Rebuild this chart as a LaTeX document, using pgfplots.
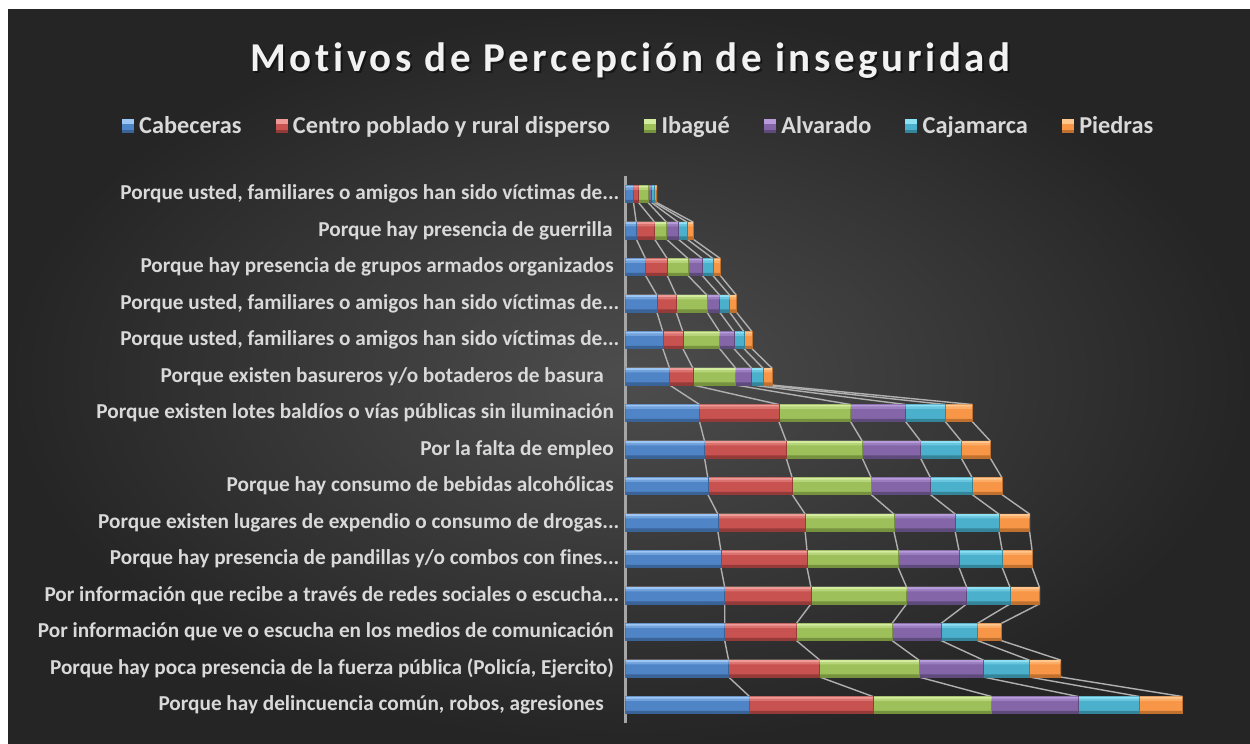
\documentclass[border=0pt]{standalone}
\usepackage{pgfplots}
\pgfplotsset{compat=1.18}
\usepackage{pgfplotstable}
\usepackage{fontspec}
\setmainfont[Ligatures=NoCommon]{Carlito}
\newfontfamily\titlefont[LetterSpace=8.8,Ligatures=NoCommon]{Carlito}
\newcommand{\tdots}{.\kern0pt.\kern0pt.}
\newcommand{\tsp}[1]{\rule{#1}{0pt}}

\definecolor{bgIn}{HTML}{4D4D4D}
\definecolor{bgOut}{HTML}{252525}
\definecolor{txt}{HTML}{D9D9D9}
\definecolor{lineG}{HTML}{B0B0B0}
\definecolor{axG}{HTML}{A6A6A6}
% base / light / dark
\definecolor{bB}{HTML}{4F84C6}\definecolor{bL}{HTML}{9CC6F5}\definecolor{bD}{HTML}{3A6398}
\definecolor{rB}{HTML}{C8524F}\definecolor{rL}{HTML}{F09A97}\definecolor{rD}{HTML}{943A38}
\definecolor{gB}{HTML}{9DC05A}\definecolor{gL}{HTML}{D4EC9E}\definecolor{gD}{HTML}{76923F}
\definecolor{pB}{HTML}{8466A8}\definecolor{pL}{HTML}{B89BDB}\definecolor{pD}{HTML}{5F4A7C}
\definecolor{cB}{HTML}{4BB0CC}\definecolor{cL}{HTML}{8EE1F4}\definecolor{cD}{HTML}{34849A}
\definecolor{oB}{HTML}{F79646}\definecolor{oL}{HTML}{FFC78E}\definecolor{oD}{HTML}{C07130}

% cumulative right ends of each series (px-like units), two rows per category (lower / upper bar edge)
\pgfplotstableread{
y c1 c2 c3 c4 c5 c6
-0.233 124 247.3 366 452.5 513.7 556.6
0.233 124 247.3 366 452.5 513.7 556.6
0.767 103.1 194.2 293.3 357.6 403.5 434.9
1.233 103.1 194.2 293.3 357.6 403.5 434.9
1.767 99.2 170.8 266.5 315.5 351.8 375.6
2.233 99.2 170.8 266.5 315.5 351.8 375.6
2.767 99.2 185.4 281 341.1 384.4 413.8
3.233 99.2 185.4 281 341.1 384.4 413.8
3.767 95.4 181.5 272.6 333.5 376.7 406.6
4.233 95.4 181.5 272.6 333.5 376.7 406.6
4.767 92.3 179.6 268.3 329.6 373.3 404
5.233 92.3 179.6 268.3 329.6 373.3 404
5.767 82.3 166.6 245.6 304.9 346.6 376.3
6.233 82.3 166.6 245.6 304.9 346.6 376.3
6.767 79 160.7 236.7 295 335.7 364.7
7.233 79 160.7 236.7 295 335.7 364.7
7.767 74 153.3 225 280 319.7 346.7
8.233 74 153.3 225 280 319.7 346.7
8.767 44 67.3 110 126 137.3 146.3
9.233 44 67.3 110 126 137.3 146.3
9.767 37.3 57.3 94 108.3 118.3 126.3
10.233 37.3 57.3 94 108.3 118.3 126.3
10.767 31.3 50.6 81.3 94 104 110.7
11.233 31.3 50.6 81.3 94 104 110.7
11.767 20 41.7 62.4 76.7 87.4 94.7
12.233 20 41.7 62.4 76.7 87.4 94.7
12.767 10.7 29 40.7 52.4 61.4 67.4
13.233 10.7 29 40.7 52.4 61.4 67.4
13.767 8 13 22.5 26 28.7 31
14.233 8 13 22.5 26 28.7 31
}\cumdata

\pgfplotsset{
  segbar/.style={xbar, bar width=0.466, bar shift=0pt, forget plot},
  seriesline/.style={draw=lineG, line width=1.4bp, mark=none, forget plot},
}
% draw one series: base bar, highlight bands, dark bottom band
\newcommand{\segment}[4]{% column, base, light, dark
  \addplot[segbar, fill=#2, draw=#4, line width=0.6bp] table[x=#1, y expr={round(\thisrow{y})}] {\cumdata};
  \addplot[xbar, bar width=0.12, bar shift=0pt, forget plot, fill=#3!45!#2, draw=none] table[x=#1, y expr={round(\thisrow{y})+0.17}] {\cumdata};
  \addplot[xbar, bar width=0.05, bar shift=0pt, forget plot, fill=#3, draw=none] table[x=#1, y expr={round(\thisrow{y})+0.203}] {\cumdata};
  \addplot[xbar, bar width=0.07, bar shift=0pt, forget plot, fill=#4, draw=none] table[x=#1, y expr={round(\thisrow{y})-0.195}] {\cumdata};
}
\newcommand{\legimg}[3]{\fill[#1] (0,-6.5bp) rectangle (11bp,6.5bp); \fill[#2] (0,3bp) rectangle (11bp,6.5bp); \fill[#3] (0,-6.5bp) rectangle (11bp,-4bp);}

\begin{document}
\begin{tikzpicture}
\fill[white] (0,0) rectangle (1250bp,744bp);
\useasboundingbox (0,0) rectangle (1250bp,744bp);
\shade[inner color=bgIn, outer color=bgOut] (8bp,0) rectangle (1250bp,734bp);

\node[anchor=base, text=black, opacity=0.45, font=\titlefont\bfseries\fontsize{41bp}{43bp}\selectfont] at (632.5bp,670.3bp) {Motivos de Percepción de inseguridad};
\node[anchor=base, text=white!95!black, font=\titlefont\bfseries\fontsize{41bp}{43bp}\selectfont] at (630.5bp,672.3bp) {Motivos de Percepción de inseguridad};

\begin{axis}[
  at={(625.5bp,20.75bp)}, anchor=south west,
  width=570bp, height=547.5bp, scale only axis,
  xmin=0, xmax=570, ymin=-0.5, ymax=14.5,
  axis x line=none,
  axis y line*=left,
  y axis line style={draw=axG, line width=2bp},
  xtick=\empty,
  ytick={0,1,2,3,4,5,6,7,8,9,10,11,12,13,14},
  ytick style={draw=none},
  yticklabel style={inner sep=0pt, xshift=-6bp, text=txt, font=\bfseries\fontsize{21.25bp}{22bp}\selectfont},
  yticklabels={
    {Porque hay delincuencia común, robos, agresiones\tsp{15.5bp}},
    {Porque hay poca presencia de la fuerza pública (Policía, Ejercito)\tsp{5.5bp}},
    {Por información que ve o escucha en los medios de comunicación\tsp{5.5bp}},
    {Por información que recibe a través de redes sociales o escucha\tdots},
    {Porque hay presencia de pandillas y/o combos con fines\tdots},
    {Porque existen lugares de expendio o consumo de drogas\tdots},
    {Porque hay consumo de bebidas alcohólicas\tsp{5.5bp}},
    {Por la falta de empleo\tsp{5.5bp}},
    {Porque existen lotes baldíos o vías públicas sin iluminación\tsp{5.5bp}},
    {Porque existen basureros y/o botaderos de basura\tsp{15.5bp}},
    {Porque usted, familiares o amigos han sido víctimas de\tdots},
    {Porque usted, familiares o amigos han sido víctimas de\tdots},
    {Porque hay presencia de grupos armados organizados\tsp{5.5bp}},
    {Porque hay presencia de guerrilla\tsp{6.8bp}},
    {Porque usted, familiares o amigos han sido víctimas de\tdots}
  },
  legend columns=6,
  legend style={at={(axis description cs:0.022,1.0909)}, anchor=center,
    draw=none, fill=none, text=txt,
    font=\bfseries\fontsize{24.3bp}{26bp}\selectfont,
    nodes={inner sep=1bp},
    /tikz/every odd column/.append style={column sep=5bp},
    /tikz/every even column/.append style={column sep=33bp}},
]
% legend
\addlegendimage{legend image code/.code={\legimg{bB}{bL}{bD}}}
\addlegendentry{Cabeceras}
\addlegendimage{legend image code/.code={\legimg{rB}{rL}{rD}}}
\addlegendentry{Centro poblado y rural disperso}
\addlegendimage{legend image code/.code={\legimg{gB}{gL}{gD}}}
\addlegendentry{Ibagué}
\addlegendimage{legend image code/.code={\legimg{pB}{pL}{pD}}}
\addlegendentry{Alvarado}
\addlegendimage{legend image code/.code={\legimg{cB}{cL}{cD}}}
\addlegendentry{Cajamarca}
\addlegendimage{legend image code/.code={\legimg{oB}{oL}{oD}}}
\addlegendentry{Piedras}

% series lines (behind the bars)
\addplot[seriesline] table[x=c1, y=y] {\cumdata};
\addplot[seriesline] table[x=c2, y=y] {\cumdata};
\addplot[seriesline] table[x=c3, y=y] {\cumdata};
\addplot[seriesline] table[x=c4, y=y] {\cumdata};
\addplot[seriesline] table[x=c5, y=y] {\cumdata};
\addplot[seriesline] table[x=c6, y=y] {\cumdata};

% bars, outermost series first
\segment{c6}{oB}{oL}{oD}
\segment{c5}{cB}{cL}{cD}
\segment{c4}{pB}{pL}{pD}
\segment{c3}{gB}{gL}{gD}
\segment{c2}{rB}{rL}{rD}
\segment{c1}{bB}{bL}{bD}
\end{axis}
\end{tikzpicture}
\end{document}
